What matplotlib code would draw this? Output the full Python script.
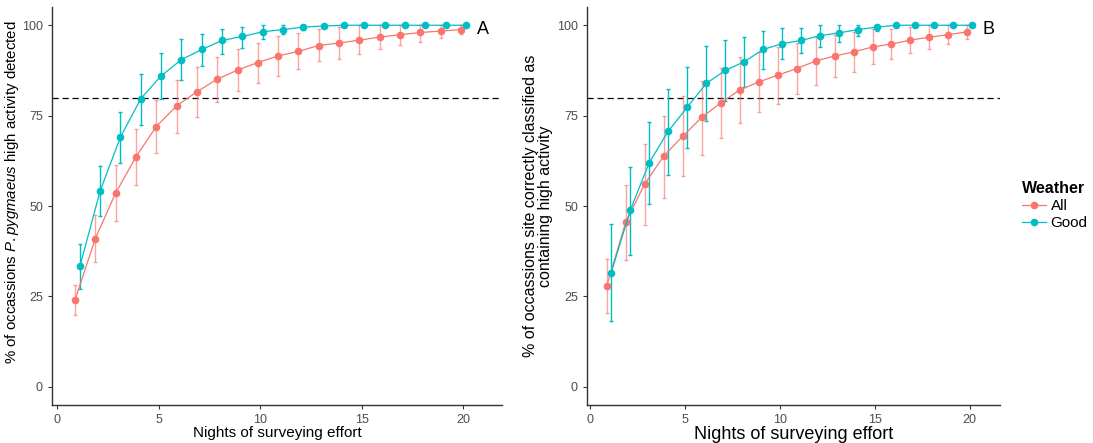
import numpy as np
import matplotlib
matplotlib.use("Agg")
import matplotlib.pyplot as plt
from matplotlib.lines import Line2D

plt.rcParams["font.family"] = ["Liberation Sans", "DejaVu Sans"]
plt.rcParams["mathtext.fontset"] = "custom"
plt.rcParams["mathtext.it"] = "Liberation Sans:italic"
plt.rcParams["mathtext.rm"] = "Liberation Sans"

nights = np.arange(1, 21)

# panel A
a_all = [24.0, 41.0, 53.6, 63.6, 72.0, 77.7, 81.6, 85.1, 87.6, 89.7,
         91.5, 92.8, 94.4, 95.1, 95.9, 96.7, 97.4, 98.0, 98.4, 98.8]
a_all_lo = [20.0, 34.6, 45.8, 55.9, 64.7, 70.2, 74.7, 78.8, 81.8, 84.1,
            86.0, 87.8, 90.0, 90.6, 92.0, 93.4, 94.5, 95.4, 96.5, 97.6]
a_all_hi = [28.1, 47.6, 61.3, 71.4, 79.4, 85.0, 88.5, 91.2, 93.5, 95.2,
            97.0, 97.9, 99.1, 99.4, 100, 100, 100, 100, 100, 100]
a_good = [33.3, 54.2, 69.1, 79.7, 86.0, 90.5, 93.3, 95.8, 96.9, 98.2,
          98.8, 99.5, 99.8, 100, 100, 100, 100, 100, 100, 100]
a_good_lo = [27.0, 47.3, 61.9, 72.5, 79.5, 84.8, 88.8, 92.1, 93.8, 96.1,
             97.6, 98.6, 99.5, 100, 100, 100, 100, 100, 100, 100]
a_good_hi = [39.5, 61.1, 76.0, 86.4, 92.4, 96.1, 97.5, 98.9, 99.4, 100,
             100, 100, 100, 100, 100, 100, 100, 100, 100, 100]

# panel B
b_all = [27.9, 45.5, 56.1, 63.8, 69.3, 74.5, 78.5, 82.1, 84.3, 86.2,
         88.0, 90.1, 91.5, 92.6, 94.0, 94.8, 95.9, 96.7, 97.4, 98.2]
b_all_lo = [20.3, 35.0, 44.7, 52.3, 58.3, 64.1, 68.8, 73.0, 76.0, 78.1,
            80.9, 83.4, 85.6, 87.1, 89.4, 90.6, 92.4, 93.4, 94.7, 96.1]
b_all_hi = [35.5, 55.9, 67.2, 74.9, 80.4, 84.7, 88.3, 91.2, 92.6, 94.1,
            95.2, 97.0, 97.4, 98.2, 99.1, 99.1, 99.5, 100, 100, 100]
b_good = [31.6, 48.8, 62.0, 70.7, 77.3, 83.9, 87.5, 89.9, 93.3, 94.9,
          95.8, 97.1, 97.9, 98.8, 99.5, 100, 100, 100, 100, 100]
b_good_lo = [18.2, 36.6, 50.5, 58.7, 66.1, 73.5, 79.0, 82.9, 88.0, 90.8,
             92.2, 94.1, 95.4, 97.0, 98.5, 100, 100, 100, 100, 100]
b_good_hi = [45.1, 60.7, 73.3, 82.3, 88.5, 94.3, 95.8, 96.8, 98.5, 99.3,
             99.3, 100, 100, 100, 100, 100, 100, 100, 100, 100]

RED = "#F8766D"
TEAL = "#00BFC4"

fig = plt.figure(figsize=(10.93, 4.43), dpi=100)
axA = fig.add_axes([0.0476, 0.0858, 0.4117, 0.898])
axB = fig.add_axes([0.537, 0.0858, 0.378, 0.898])


def draw(ax, allv, alo, ahi, good, glo, ghi, letter, xlim, xlab_size):
    xa = nights - 0.12
    xg = nights + 0.12
    allv, alo, ahi = np.array(allv), np.array(alo), np.array(ahi)
    good, glo, ghi = np.array(good), np.array(glo), np.array(ghi)
    ax.errorbar(xa, allv, yerr=[allv - alo, ahi - allv], fmt="none",
                ecolor=RED, alpha=0.65, elinewidth=1.0, capsize=1.5, zorder=2)
    ax.errorbar(xg, good, yerr=[good - glo, ghi - good], fmt="none",
                ecolor=TEAL, elinewidth=1.0, capsize=1.5, zorder=2)
    ax.plot(xa, allv, color=RED, lw=0.9, marker="o", ms=4.5, zorder=3)
    ax.plot(xg, good, color=TEAL, lw=0.9, marker="o", ms=4.5, zorder=3)
    ax.axhline(80, color="black", lw=0.9, ls=(0, (5, 3)), zorder=1)
    ax.text(20.65, 98.8, letter, fontsize=13, ha="left", va="center")
    ax.set_xlim(*xlim)
    ax.set_ylim(-5, 105)
    ax.set_xticks([0, 5, 10, 15, 20])
    ax.set_yticks([0, 25, 50, 75, 100])
    for s in ["top", "right"]:
        ax.spines[s].set_visible(False)
    for s in ["left", "bottom"]:
        ax.spines[s].set_color("#333333")
        ax.spines[s].set_linewidth(1.0)
    ax.tick_params(length=3, color="#333333", labelcolor="#4d4d4d", labelsize=9)
    ax.set_xlabel("Nights of surveying effort", fontsize=xlab_size, labelpad=0)


draw(axA, a_all, a_all_lo, a_all_hi, a_good, a_good_lo, a_good_hi, "A",
     (-0.25, 21.9), 11)
draw(axB, b_all, b_all_lo, b_all_hi, b_good, b_good_lo, b_good_hi, "B",
     (-0.16, 21.6), 13)

axA.set_ylabel(r"% of occassions $\it{P.pygmaeus}$ high activity detected",
               fontsize=10.8)
axA.yaxis.set_label_coords(-0.07, 0.535)
axB.set_ylabel("% of occassions site correctly classified as\ncontaining high activity",
               fontsize=11.5, linespacing=1.0)
axB.yaxis.set_label_coords(-0.082, 0.5)

handles = [Line2D([0], [0], color=RED, lw=0.9, marker="o", ms=4.5),
           Line2D([0], [0], color=TEAL, lw=0.9, marker="o", ms=4.5)]
leg = fig.legend(handles, ["All", "Good"], title="Weather", loc="upper left",
                 bbox_to_anchor=(0.925, 0.616), frameon=False, fontsize=11,
                 title_fontproperties={"weight": "bold", "size": 11.5},
                 handlelength=1.6, handletextpad=0.3, labelspacing=0.2,
                 borderpad=0.2)
leg._legend_box.align = "left"

fig.savefig("out.png", dpi=100)
